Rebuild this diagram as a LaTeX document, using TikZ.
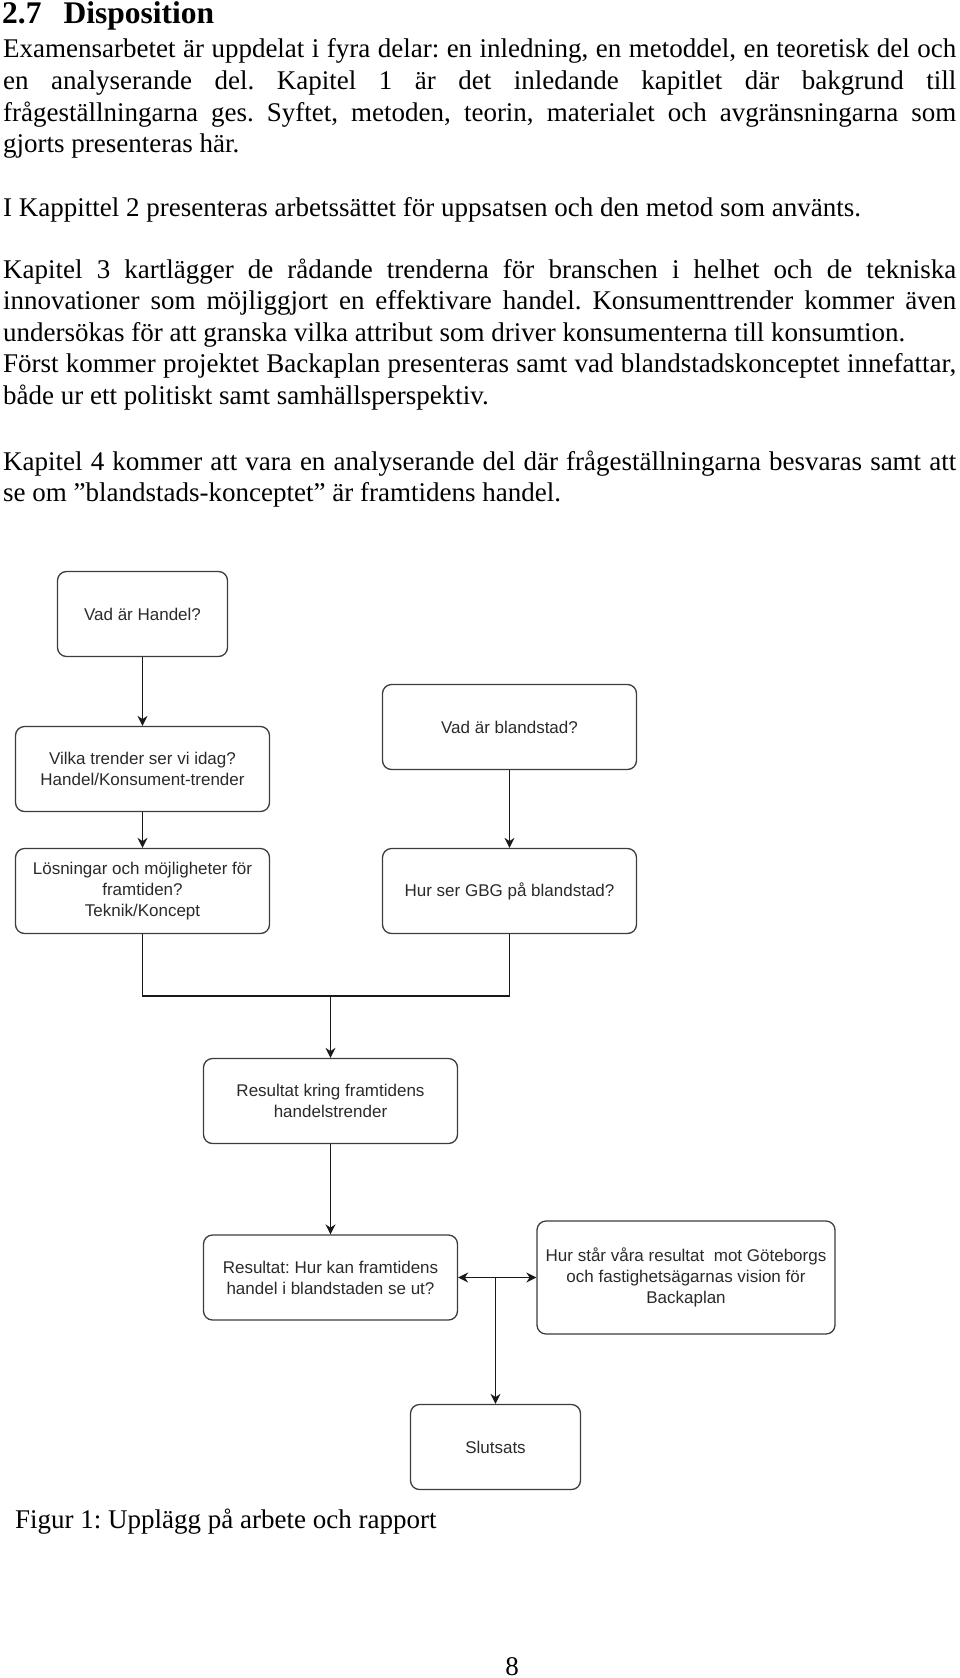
\documentclass[tikz,border=0pt]{standalone}
\usepackage{fontspec}
\setmainfont{Liberation Serif}
\newfontfamily\boxfont{Liberation Sans}
\usepackage{xcolor}
\usetikzlibrary{arrows.meta}
\definecolor{boxline}{HTML}{3C3C3C}
\definecolor{boxtext}{HTML}{2A2A2A}
\frenchspacing
\tolerance=10000
\hbadness=10000
\hyphenpenalty=10000
\tikzset{
  box/.style={draw=boxline, line width=1.3pt, rounded corners=9pt, align=center,
    text=boxtext, font=\boxfont\fontsize{17}{21}\selectfont,
    minimum width=254pt, minimum height=85pt, inner sep=0pt},
  smallbox/.style={box, minimum width=170pt},
  para/.style={anchor=base west, text width=953pt, align=justify, inner sep=0pt,
    font=\fontsize{27}{31.5}\selectfont},
  plain/.style={anchor=base west, inner sep=0pt, font=\fontsize{27}{31.5}\selectfont},
  link/.style={line width=1.3pt, draw=black!90}
}
\begin{document}
\begin{tikzpicture}[x=1pt, y=-1pt, >={Stealth[length=10pt,width=10pt]}]
        \useasboundingbox (0,0) rectangle (960,1678);
        \node[plain, font=\bfseries\fontsize{31.5}{36}\selectfont] at (2,23.5) (heading){2.7\hspace{22pt}Disposition};
        \node[para] at (3,58) (p1){Examensarbetet är uppdelat i fyra delar: en inledning, en metoddel, en teoretisk del och\linebreak en analyserande del. Kapitel 1 är det inledande kapitlet där bakgrund till\linebreak frågeställningarna ges. Syftet, metoden, teorin, materialet och avgränsningarna som\linebreak gjorts presenteras här.};
        \node[para] at (3,216) (p2){I Kappittel 2 presenteras arbetssättet för uppsatsen och den metod som använts.};
        \node[para] at (3,278) (p3){Kapitel 3 kartlägger de rådande trenderna för branschen i helhet och de tekniska\linebreak innovationer som möjliggjort en effektivare handel. Konsumenttrender kommer även\linebreak undersökas för att granska vilka attribut som driver konsumenterna till konsumtion.\par Först kommer projektet Backaplan presenteras samt vad blandstadskonceptet innefattar,\linebreak både ur ett politiskt samt samhällsperspektiv.};
        \node[para] at (3,470) (p4){Kapitel 4 kommer att vara en analyserande del där frågeställningarna besvaras samt att\linebreak se om ”blandstads-konceptet” är framtidens handel.};

        \node[smallbox] at (142.5,614) (handel){Vad är Handel?};
        \node[box] at (142.5,769) (trender){Vilka trender ser vi idag?\\Handel/Konsument-trender};
        \node[box] at (142.5,891) (losning){Lösningar och möjligheter för\\framtiden?\\Teknik/Koncept};
        \node[box] at (509.5,727) (blandstad){Vad är blandstad?};
        \node[box] at (509.5,891) (gbg){Hur ser GBG på blandstad?};
        \node[box] at (330.5,1101) (resultat){Resultat kring framtidens\\handelstrender};
        \node[box] at (330.5,1277.5) (framtid){Resultat: Hur kan framtidens\\handel i blandstaden se ut?};
        \node[box, minimum width=298pt, minimum height=113pt] at (686,1277.5) (vision){Hur står våra resultat~~mot Göteborgs\\och fastighetsägarnas vision för\\Backaplan};
        \node[smallbox] at (495.5,1447) (slutsats){Slutsats};
        \coordinate (merge) at (330.5,996);
        \coordinate (split) at (slutsats.north |- framtid.east);

        \draw[link, ->] (handel) -- (trender);
        \draw[link, ->] (trender) -- (losning);
        \draw[link, ->] (blandstad) -- (gbg);
        \draw[link] (losning) |- (merge) -| (gbg);
        \draw[link, ->] (merge) -- (resultat);
        \draw[link, ->] (resultat) -- (framtid);
        \draw[link, <->] (framtid) -- (vision);
        \draw[link, ->] (split) -- (slutsats);

        \node[plain] at (15,1528) (caption){Figur 1: Upplägg på arbete och rapport};
        \node[plain, anchor=base] at (512,1675) (pagenum){8};
      \end{tikzpicture}
\end{document}
